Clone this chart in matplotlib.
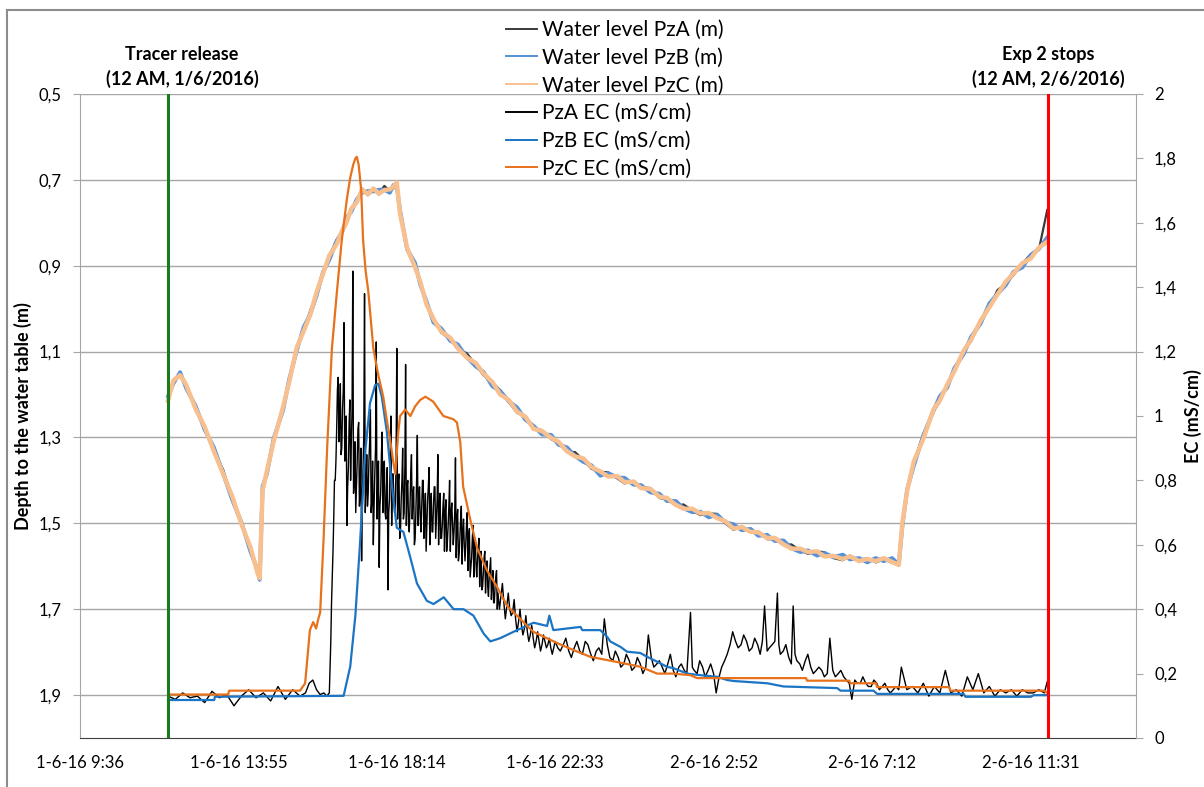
import matplotlib
matplotlib.use("Agg")
import matplotlib.pyplot as plt
from matplotlib.lines import Line2D

plt.rcParams["font.family"] = ["Lato", "DejaVu Sans"]

# time axis: hours after 1-6-16 00:00
x_ticks = [9.6, 13.92, 18.24, 22.56, 26.88, 31.2, 35.52]
x_tick_labels = ["1-6-16 9:36", "1-6-16 13:55", "1-6-16 18:14", "1-6-16 22:33",
                 "2-6-16 2:52", "2-6-16 7:12", "2-6-16 11:31"]
depth_ticks = [0.5, 0.7, 0.9, 1.1, 1.3, 1.5, 1.7, 1.9]
depth_labels = ["0,5", "0,7", "0,9", "1,1", "1,3", "1,5", "1,7", "1,9"]
ec_ticks = [0, 0.2, 0.4, 0.6, 0.8, 1.0, 1.2, 1.4, 1.6, 1.8, 2.0]
ec_labels = ["0", "0,2", "0,4", "0,6", "0,8", "1", "1,2", "1,4", "1,6", "1,8", "2"]
event_hours = [12.0, 36.0]

# water level (depth, m)
wl_hours = [12.0, 12.15, 12.33, 12.5, 12.75, 13.0, 13.25, 13.5, 13.75, 14.0,
            14.25, 14.45, 14.5, 14.58, 14.7, 14.88, 15.14, 15.3, 15.51, 15.7,
            15.88, 16.05, 16.23, 16.4, 16.6, 16.75, 16.88, 17.0, 17.15, 17.29,
            17.45, 17.6, 17.75, 17.9, 18.05, 18.15, 18.24, 18.33, 18.52, 18.74,
            18.88, 19.05, 19.24, 19.45, 19.7, 19.9, 20.15, 20.4, 20.6, 20.85,
            21.06, 21.3, 21.52, 21.75, 21.97, 22.2, 22.45, 22.65, 22.88, 23.1,
            23.33, 23.55, 23.79, 24.0, 24.25, 24.45, 24.7, 24.9, 25.16, 25.4,
            25.61, 25.85, 26.06, 26.3, 26.52, 26.75, 26.98, 27.2, 27.42, 27.65,
            27.89, 28.1, 28.34, 28.55, 28.79, 29.0, 29.25, 29.45, 29.7, 29.9,
            30.15, 30.4, 30.6, 30.85, 31.07, 31.3, 31.52, 31.75, 31.93, 32.03,
            32.16, 32.34, 32.6, 32.88, 33.05, 33.25, 33.45, 33.7, 33.9, 34.16,
            34.4, 34.62, 34.85, 35.06, 35.3, 35.53, 35.75, 35.98]
wl_pza = [1.217, 1.165, 1.152, 1.176, 1.236, 1.278, 1.334, 1.374, 1.441, 1.505,
          1.557, 1.608, 1.633, 1.427, 1.375, 1.307, 1.226, 1.176, 1.094, 1.054,
          1.004, 0.966, 0.922, 0.877, 0.840, 0.823, 0.800, 0.765, 0.749, 0.720,
          0.736, 0.723, 0.734, 0.714, 0.726, 0.720, 0.707, 0.770, 0.863, 0.907,
          0.935, 0.987, 1.022, 1.056, 1.071, 1.094, 1.104, 1.131, 1.155, 1.172,
          1.190, 1.218, 1.243, 1.250, 1.277, 1.283, 1.304, 1.313, 1.334, 1.334,
          1.353, 1.373, 1.380, 1.381, 1.395, 1.407, 1.401, 1.415, 1.418, 1.441,
          1.444, 1.459, 1.456, 1.470, 1.481, 1.477, 1.478, 1.500, 1.515, 1.507,
          1.517, 1.519, 1.537, 1.537, 1.551, 1.549, 1.563, 1.571, 1.566, 1.567,
          1.581, 1.586, 1.575, 1.585, 1.581, 1.591, 1.584, 1.592, 1.587, 1.501,
          1.428, 1.357, 1.293, 1.239, 1.217, 1.175, 1.142, 1.096, 1.076, 1.031,
          0.999, 0.957, 0.941, 0.922, 0.895, 0.873, 0.863, 0.770]
wl_pzb = [1.204, 1.174, 1.148, 1.186, 1.226, 1.282, 1.323, 1.383, 1.445, 1.497,
          1.566, 1.610, 1.631, 1.414, 1.384, 1.303, 1.236, 1.166, 1.098, 1.043,
          1.013, 0.970, 0.914, 0.886, 0.842, 0.821, 0.787, 0.774, 0.745, 0.730,
          0.726, 0.727, 0.723, 0.723, 0.730, 0.712, 0.716, 0.772, 0.861, 0.894,
          0.944, 0.983, 1.032, 1.046, 1.075, 1.083, 1.113, 1.135, 1.147, 1.181,
          1.192, 1.216, 1.230, 1.259, 1.273, 1.293, 1.294, 1.317, 1.323, 1.343,
          1.357, 1.365, 1.389, 1.383, 1.393, 1.394, 1.410, 1.411, 1.428, 1.431,
          1.448, 1.448, 1.465, 1.474, 1.473, 1.486, 1.480, 1.498, 1.502, 1.516,
          1.513, 1.529, 1.527, 1.541, 1.540, 1.558, 1.567, 1.563, 1.575, 1.569,
          1.579, 1.573, 1.584, 1.581, 1.591, 1.581, 1.588, 1.581, 1.596, 1.505,
          1.420, 1.366, 1.295, 1.237, 1.204, 1.184, 1.138, 1.106, 1.066, 1.035,
          0.988, 0.966, 0.945, 0.914, 0.904, 0.875, 0.861, 0.834]
wl_pzc = [1.214, 1.167, 1.155, 1.178, 1.233, 1.275, 1.332, 1.384, 1.437, 1.501,
          1.556, 1.618, 1.628, 1.424, 1.377, 1.310, 1.228, 1.173, 1.091, 1.052,
          1.014, 0.962, 0.918, 0.876, 0.850, 0.818, 0.797, 0.767, 0.752, 0.722,
          0.733, 0.720, 0.732, 0.724, 0.722, 0.716, 0.706, 0.780, 0.858, 0.904,
          0.937, 0.990, 1.024, 1.053, 1.068, 1.092, 1.114, 1.127, 1.151, 1.171,
          1.200, 1.213, 1.240, 1.252, 1.280, 1.285, 1.301, 1.310, 1.332, 1.344,
          1.349, 1.369, 1.379, 1.391, 1.390, 1.404, 1.403, 1.418, 1.420, 1.438,
          1.441, 1.457, 1.466, 1.466, 1.477, 1.476, 1.488, 1.495, 1.512, 1.509,
          1.520, 1.521, 1.534, 1.534, 1.549, 1.559, 1.559, 1.567, 1.565, 1.577,
          1.576, 1.583, 1.577, 1.588, 1.583, 1.588, 1.581, 1.590, 1.597, 1.497,
          1.424, 1.356, 1.303, 1.234, 1.214, 1.177, 1.145, 1.098, 1.073, 1.028,
          0.997, 0.967, 0.937, 0.918, 0.894, 0.883, 0.858, 0.844]

# EC PzA (mS/cm), noisy logger: spike readings
ec_a_hours = [12.0, 12.2, 12.4, 12.6, 12.8, 13.0, 13.2, 13.4, 13.6, 13.8,
              14.0, 14.2, 14.4, 14.6, 14.8, 15.0, 15.2, 15.4, 15.6, 15.75,
              15.85, 15.95, 16.05, 16.15, 16.25, 16.33,
              16.40, 16.48, 16.56, 16.64, 16.72, 16.80, 16.88, 16.96, 17.04, 17.12,
              17.20, 17.28, 17.36, 17.44, 17.52, 17.60, 17.68, 17.76, 17.84, 17.92,
              18.00, 18.08, 18.16, 18.24, 18.32, 18.40, 18.48, 18.56, 18.64, 18.72,
              18.80, 18.88, 18.96, 19.04, 19.12, 19.20, 19.28, 19.36, 19.44, 19.52,
              19.60, 19.68, 19.76, 19.84, 19.92, 20.00, 20.08, 20.16, 20.24, 20.32,
              20.40, 20.48, 20.56, 20.64, 20.72, 20.80, 20.88, 20.96, 21.04, 21.12,
              21.20, 21.28, 21.36, 21.44, 21.52, 21.60, 21.68, 21.76, 21.84, 21.92,
              22.00, 22.08, 22.16, 22.24, 22.32, 22.40, 22.48, 22.56,
              22.70, 22.85, 23.00, 23.15, 23.30, 23.45, 23.60, 23.75, 23.90, 24.05,
              24.20, 24.35, 24.50, 24.65, 24.80, 24.95, 25.10, 25.25, 25.40, 25.55,
              25.70, 25.85, 26.00, 26.15, 26.25, 26.35, 26.50, 26.65, 26.80, 26.95,
              27.10, 27.25, 27.40, 27.55, 27.70, 27.85, 28.00, 28.15, 28.27, 28.40,
              28.55, 28.62, 28.70, 28.85, 29.00, 29.05, 29.15, 29.30, 29.45, 29.60,
              29.75, 29.90, 30.05, 30.20, 30.35, 30.50, 30.65, 30.80, 30.95, 31.10,
              31.25, 31.40, 31.55, 31.70, 31.85, 32.00, 32.15, 32.30, 32.45, 32.60,
              32.75, 32.90, 33.05, 33.20, 33.35, 33.50, 33.65, 33.80, 33.95, 34.10,
              34.25, 34.40, 34.55, 34.70, 34.85, 35.00, 35.15, 35.30, 35.45, 35.60,
              35.75, 35.90, 35.98]
ec_a = [0.130, 0.120, 0.140, 0.125, 0.130, 0.110, 0.145, 0.125, 0.135, 0.100,
        0.130, 0.150, 0.125, 0.140, 0.115, 0.160, 0.120, 0.150, 0.130, 0.140,
        0.170, 0.180, 0.150, 0.135, 0.140, 0.130,
        0.14, 0.50, 0.80, 1.12, 0.88, 1.29, 0.66, 1.05, 1.45, 0.70,
        0.98, 0.55, 1.38, 0.72, 1.02, 0.60, 1.23, 0.53, 0.95, 0.70,
        0.46, 1.00, 0.74, 1.21, 0.62, 0.90, 1.16, 0.66, 0.88, 0.60,
        0.94, 0.68, 0.80, 0.58, 0.84, 0.64, 0.78, 0.88, 0.62, 0.76,
        0.58, 0.80, 0.66, 0.87, 0.55, 0.72, 0.60, 0.70, 0.50, 0.66,
        0.54, 0.62, 0.46, 0.58, 0.47, 0.56, 0.42, 0.52, 0.40, 0.48,
        0.37, 0.45, 0.38, 0.43, 0.33, 0.40, 0.32, 0.38, 0.30, 0.35,
        0.28, 0.33, 0.27, 0.32, 0.28, 0.31, 0.26, 0.30,
        0.27, 0.31, 0.25, 0.30, 0.26, 0.29, 0.24, 0.28, 0.37, 0.25,
        0.27, 0.22, 0.26, 0.21, 0.25, 0.20, 0.32, 0.22, 0.24, 0.20,
        0.26, 0.19, 0.23, 0.20, 0.39, 0.21, 0.24, 0.19, 0.23, 0.14,
        0.22, 0.26, 0.33, 0.28, 0.32, 0.27, 0.31, 0.26, 0.41, 0.28,
        0.30, 0.45, 0.26, 0.29, 0.23, 0.41, 0.24, 0.21, 0.26, 0.20,
        0.22, 0.19, 0.31, 0.19, 0.21, 0.18, 0.12, 0.17, 0.19, 0.16,
        0.18, 0.15, 0.17, 0.14, 0.16, 0.22, 0.15, 0.16, 0.14, 0.17,
        0.13, 0.16, 0.14, 0.21, 0.14, 0.15, 0.13, 0.19, 0.15, 0.20,
        0.14, 0.16, 0.13, 0.15, 0.14, 0.15, 0.13, 0.15, 0.14, 0.14,
        0.15, 0.14, 0.175]
# EC PzA readings in between the spikes (core of the noisy band)
ec_a_mid_hours = [16.44, 16.52, 16.60, 16.68, 16.76, 16.84, 16.92, 17.00, 17.08, 17.16,
                  17.24, 17.32, 17.40, 17.48, 17.56, 17.64, 17.72, 17.80, 17.88, 17.96,
                  18.04, 18.12, 18.20, 18.28, 18.36, 18.44, 18.52, 18.60, 18.68, 18.76,
                  18.84, 18.92, 19.00, 19.08, 19.16, 19.24, 19.32, 19.40, 19.48, 19.56,
                  19.64, 19.72, 19.80, 19.88, 19.96, 20.04, 20.12, 20.20, 20.28, 20.36,
                  20.44, 20.52, 20.60, 20.68, 20.76, 20.84, 20.92, 21.00, 21.08, 21.16,
                  21.24, 21.32, 21.40, 21.48, 21.56, 21.64, 21.72, 21.80, 21.88, 21.96,
                  22.04, 22.12, 22.20, 22.28, 22.36, 22.44, 22.52,
                  22.63, 22.78, 22.93, 23.08, 23.23, 23.38, 23.53, 23.68, 23.83, 23.98,
                  24.13, 24.28, 24.43, 24.58, 24.73, 24.88, 25.03, 25.18, 25.33, 25.48,
                  25.63, 25.78, 25.93, 26.08, 26.30, 26.43, 26.58, 26.73, 26.88, 27.03,
                  27.18, 27.33, 27.48, 27.63, 27.78, 27.93, 28.08, 28.21, 28.34, 28.48,
                  28.66, 28.78, 28.93, 29.10, 29.23, 29.38, 29.53, 29.68, 29.83, 29.98,
                  30.13, 30.28, 30.43, 30.58, 30.73, 30.88, 31.03, 31.18, 31.33, 31.48,
                  31.63, 31.78, 31.93]
ec_a_mid = [0.30, 0.68, 0.96, 0.98, 1.02, 0.90, 0.84, 0.92, 0.80, 0.86,
            0.76, 0.84, 0.78, 0.86, 0.74, 0.82, 0.80, 0.76, 0.84, 0.78,
            0.74, 0.82, 0.72, 0.80, 0.74, 0.70, 0.78, 0.72, 0.76, 0.70,
            0.74, 0.72, 0.68, 0.74, 0.70, 0.72, 0.68, 0.72, 0.66, 0.70,
            0.66, 0.70, 0.64, 0.68, 0.62, 0.64, 0.60, 0.62, 0.56, 0.60,
            0.55, 0.56, 0.51, 0.53, 0.50, 0.48, 0.47, 0.45, 0.44, 0.42,
            0.41, 0.40, 0.39, 0.37, 0.36, 0.35, 0.34, 0.33, 0.32, 0.31,
            0.30, 0.30, 0.29, 0.30, 0.29, 0.28, 0.28,
            0.28, 0.29, 0.27, 0.28, 0.27, 0.30, 0.26, 0.27, 0.26, 0.29,
            0.24, 0.25, 0.23, 0.24, 0.22, 0.23, 0.22, 0.25, 0.23, 0.22,
            0.23, 0.21, 0.22, 0.21, 0.22, 0.20, 0.22, 0.21, 0.20, 0.19,
            0.24, 0.29, 0.30, 0.29, 0.30, 0.28, 0.29, 0.30, 0.27, 0.29,
            0.29, 0.27, 0.25, 0.26, 0.23, 0.24, 0.22, 0.21, 0.21, 0.20,
            0.21, 0.20, 0.19, 0.17, 0.18, 0.17, 0.17, 0.16, 0.17, 0.16,
            0.15, 0.15, 0.15]
# lower and upper edge readings of the dense band, 16.4 h to 21 h
ec_a_low_hours = [16.42, 16.50, 16.58, 16.66, 16.74, 16.82, 16.90, 16.98, 17.06, 17.14,
                  17.22, 17.30, 17.38, 17.46, 17.54, 17.62, 17.70, 17.78, 17.86, 17.94,
                  18.02, 18.10, 18.18, 18.26, 18.34, 18.42, 18.50, 18.58, 18.66, 18.74,
                  18.82, 18.90, 18.98, 19.06, 19.14, 19.22, 19.30, 19.38, 19.46, 19.54,
                  19.62, 19.70, 19.78, 19.86, 19.94, 20.02, 20.10, 20.18, 20.26, 20.34,
                  20.42, 20.50, 20.58, 20.66, 20.74, 20.82, 20.90, 20.98]
ec_a_low = [0.22, 0.58, 0.86, 0.92, 0.90, 0.86, 0.78, 0.80, 0.76, 0.78,
            0.72, 0.74, 0.70, 0.76, 0.70, 0.72, 0.68, 0.72, 0.70, 0.68,
            0.70, 0.66, 0.70, 0.68, 0.64, 0.68, 0.66, 0.64, 0.68, 0.62,
            0.66, 0.64, 0.62, 0.66, 0.60, 0.64, 0.62, 0.60, 0.62, 0.58,
            0.61, 0.58, 0.60, 0.56, 0.57, 0.54, 0.55, 0.52, 0.53, 0.50,
            0.50, 0.47, 0.47, 0.45, 0.44, 0.43, 0.42, 0.40]
ec_a_high_hours = [16.46, 16.54, 16.62, 16.70, 16.78, 16.86, 16.94, 17.02, 17.10, 17.18,
                   17.26, 17.34, 17.42, 17.50, 17.58, 17.66, 17.74, 17.82, 17.90, 17.98,
                   18.06, 18.14, 18.22, 18.30, 18.38, 18.46, 18.54, 18.62, 18.70, 18.78,
                   18.86, 18.94, 19.02, 19.10, 19.18, 19.26, 19.34, 19.42, 19.50, 19.58,
                   19.66, 19.74, 19.82, 19.90, 19.98, 20.06, 20.14, 20.22, 20.30, 20.38,
                   20.46, 20.54, 20.62, 20.70, 20.78, 20.86, 20.94]
ec_a_high = [0.42, 0.80, 1.08, 1.10, 1.08, 1.00, 0.98, 1.02, 0.92, 0.96,
             0.90, 0.94, 0.88, 0.92, 0.86, 0.90, 0.86, 0.88, 0.86, 0.84,
             0.86, 0.82, 0.86, 0.82, 0.80, 0.84, 0.80, 0.82, 0.78, 0.80,
             0.78, 0.80, 0.76, 0.78, 0.76, 0.78, 0.74, 0.76, 0.72, 0.74,
             0.72, 0.73, 0.70, 0.71, 0.68, 0.68, 0.66, 0.65, 0.62, 0.62,
             0.59, 0.58, 0.56, 0.55, 0.53, 0.52, 0.50]

# EC PzB
ec_b_hours = [12.0, 13.26, 13.28, 16.79, 16.97, 17.11, 17.24, 17.38, 17.51, 17.65,
              17.74, 17.83, 17.97, 18.11, 18.24, 18.42, 18.61, 18.79, 19.06, 19.24,
              19.52, 19.79, 20.06, 20.33, 20.61, 20.79, 21.06, 21.52, 21.97, 22.34,
              22.4, 22.51, 23.25, 23.3, 23.79, 23.98, 24.06, 24.34, 24.52, 24.88,
              25.07, 25.34, 25.61, 25.78, 26.16, 26.52, 26.98, 27.25, 27.43, 28.34,
              28.79, 30.25, 30.34, 31.24, 31.34, 33.7, 33.75, 35.53, 35.61, 36.0]
ec_b = [0.118, 0.118, 0.128, 0.131, 0.222, 0.38, 0.61, 0.89, 1.04, 1.096,
        1.10, 1.06, 0.95, 0.78, 0.653, 0.64, 0.56, 0.48, 0.426, 0.416,
        0.437, 0.40, 0.40, 0.38, 0.324, 0.30, 0.31, 0.335, 0.358, 0.348,
        0.38, 0.335, 0.345, 0.335, 0.335, 0.314, 0.30, 0.283, 0.268, 0.264,
        0.252, 0.237, 0.221, 0.217, 0.20, 0.195, 0.19, 0.18, 0.177, 0.17,
        0.16, 0.155, 0.147, 0.147, 0.137, 0.137, 0.128, 0.128, 0.133, 0.133]

# EC PzC
ec_c_hours = [12.0, 13.64, 13.67, 15.6, 15.74, 15.87, 15.96, 16.04, 16.1, 16.15,
              16.24, 16.34, 16.47, 16.61, 16.74, 16.88, 16.97, 17.05, 17.11, 17.15,
              17.2, 17.27, 17.32, 17.39, 17.46, 17.6, 17.73, 17.87, 17.95, 18.06,
              18.14, 18.2, 18.28, 18.33, 18.47, 18.61, 18.74, 18.88, 19.02, 19.23,
              19.51, 19.78, 19.88, 19.97, 20.05, 20.24, 20.43, 20.7, 20.97, 21.25,
              21.96, 22.61, 23.06, 23.52, 23.98, 24.42, 24.89, 25.34, 25.78, 26.25,
              26.43, 29.4, 29.43, 30.58, 30.61, 31.31, 31.34, 33.3, 33.34, 35.88,
              35.98]
ec_c = [0.135, 0.135, 0.147, 0.147, 0.17, 0.335, 0.36, 0.34, 0.37, 0.39,
        0.61, 0.90, 1.21, 1.39, 1.547, 1.675, 1.74, 1.78, 1.80, 1.805,
        1.78, 1.70, 1.547, 1.45, 1.39, 1.21, 1.13, 1.06, 1.0, 0.925,
        0.86, 0.82, 0.95, 1.0, 1.02, 1.0, 1.03, 1.05, 1.06, 1.045,
        1.0, 0.99, 0.98, 0.92, 0.78, 0.68, 0.59, 0.52, 0.47, 0.41,
        0.33, 0.295, 0.273, 0.252, 0.242, 0.232, 0.221, 0.20, 0.20, 0.195,
        0.186, 0.186, 0.178, 0.178, 0.17, 0.17, 0.158, 0.158, 0.147, 0.147,
        0.14]

# merge all PzA EC readings in time order
pza_ec = sorted(zip(ec_a_hours + ec_a_mid_hours + ec_a_low_hours + ec_a_high_hours,
                    ec_a + ec_a_mid + ec_a_low + ec_a_high))
pza_ec_t = [t for t, _ in pza_ec]
pza_ec_v = [v for _, v in pza_ec]

W, H = 1204, 787
fig = plt.figure(figsize=(W / 100, H / 100), dpi=100)
ax = fig.add_axes([80 / W, 1 - 738 / H, (1136 - 80) / W, (738 - 94) / H])

# water levels on the left (depth) axis
l1, = ax.plot(wl_hours, wl_pza, color="#3a3a3a", lw=1.6, label="Water level PzA (m)")
l2, = ax.plot(wl_hours, wl_pzb, color="#5592DB", lw=2.8, label="Water level PzB (m)")
l3, = ax.plot(wl_hours, wl_pzc, color="#F9C08F", lw=3.2, label="Water level PzC (m)")

ax.set_xlim(9.6, 38.4)
ax.set_ylim(2.0, 0.5)
ax.set_xticks(x_ticks)
ax.set_xticklabels(x_tick_labels, fontsize=12)
ax.set_yticks(depth_ticks)
ax.set_yticklabels(depth_labels, fontsize=12)
ax.tick_params(axis="x", length=0, pad=12)
ax.tick_params(axis="y", length=5, color="#a6a6a6", pad=8)
ax.grid(axis="y", color="#a6a6a6", lw=1)
ax.set_axisbelow(True)
ax.spines["top"].set_visible(False)
ax.spines["right"].set_visible(False)
ax.spines["left"].set_color("#a6a6a6")
ax.spines["bottom"].set_color("#404040")
ax.set_ylabel("Depth to the water table (m)", fontsize=13, fontweight="bold", labelpad=5)

# EC on the right axis
ax2 = ax.twinx()
l4, = ax2.plot(pza_ec_t, pza_ec_v, color="black", lw=1.0, label="PzA EC (mS/cm)")
l5, = ax2.plot(ec_b_hours, ec_b, color="#1C75C4", lw=1.6, label="PzB EC (mS/cm)")
l6, = ax2.plot(ec_c_hours, ec_c, color="#E8711C", lw=1.6, label="PzC EC (mS/cm)")
ax2.set_ylim(0, 2)
ax2.set_yticks(ec_ticks)
ax2.set_yticklabels(ec_labels, fontsize=12)
ax2.tick_params(axis="y", length=5, color="#a6a6a6", pad=8)
for s in ["top", "left", "bottom"]:
    ax2.spines[s].set_visible(False)
ax2.spines["right"].set_color("#a6a6a6")
ax2.set_ylabel("EC (mS/cm)", fontsize=13, fontweight="bold", labelpad=5)

ax2.axvline(event_hours[0], color="#1B7A1B", lw=2.2)
ax2.axvline(event_hours[1], color="#FF0000", lw=2.2)

fig.text(182 / W, 1 - 67 / H, "Tracer release\n(12 AM, 1/6/2016)", ha="center", va="center",
         fontsize=13, fontweight="bold", linespacing=1.5)
fig.text(1048 / W, 1 - 67 / H, "Exp 2 stops\n(12 AM, 2/6/2016)", ha="center", va="center",
         fontsize=13, fontweight="bold", linespacing=1.5)

leg_handles = [Line2D([], [], color=h.get_color(), lw=1.4) for h in [l1, l2, l3, l4, l5, l6]]
fig.legend(leg_handles, [h.get_label() for h in [l1, l2, l3, l4, l5, l6]], loc="upper left",
           bbox_to_anchor=(506 / W, 1 - 20 / H), frameon=False, fontsize=15,
           handlelength=1.5, handletextpad=0.25, labelspacing=0.37, borderpad=0,
           borderaxespad=0)

# chart border (left and top edges visible)
fig.add_artist(Line2D([7 / W, 7 / W], [0, 1 - 10 / H], transform=fig.transFigure,
                      color="#8c8c8c", lw=1.5))
fig.add_artist(Line2D([7 / W, 1], [1 - 10 / H, 1 - 10 / H], transform=fig.transFigure,
                      color="#8c8c8c", lw=1.5))

fig.savefig("out.png", dpi=100)
